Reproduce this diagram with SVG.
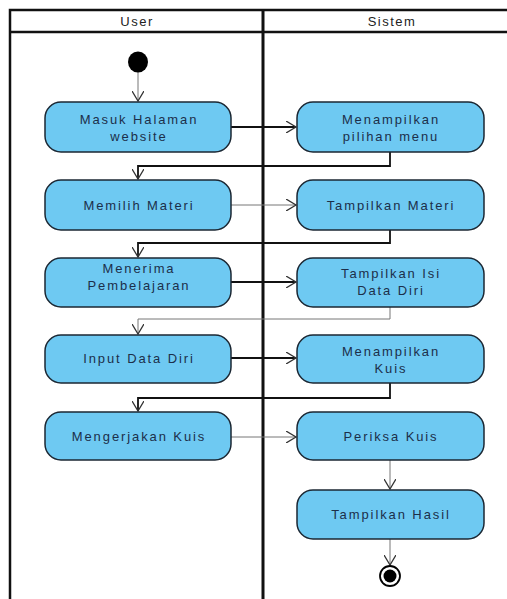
<svg xmlns="http://www.w3.org/2000/svg" width="507" height="599" viewBox="0 0 507 599">
<defs>
<style>
.lane{fill:none;stroke:#111;stroke-width:2.5}
.node rect{fill:#6ec9f2;stroke:#1b2733;stroke-width:1.5}
.node text{font-family:"Liberation Sans",Arial,sans-serif;font-size:13px;letter-spacing:1.9px;fill:#1c2f4a;text-anchor:middle}
.hdr{font-family:"Liberation Sans",Arial,sans-serif;font-size:13px;letter-spacing:1.5px;fill:#222;text-anchor:middle}
.c{fill:none;stroke:#111;stroke-width:1.8}
.t{fill:none;stroke:#777;stroke-width:1}
</style>
<marker id="a" markerWidth="12" markerHeight="12" refX="10" refY="6" orient="auto" markerUnits="userSpaceOnUse">
<path d="M0,0 L10,6 L0,12" fill="none" stroke="#333" stroke-width="1.3"/>
</marker>
</defs>
<rect width="507" height="599" fill="#fff"/>
<g id="swimlanes">
<path class="lane" d="M10,599 V10 H507"/>
<line class="lane" x1="10" y1="32" x2="507" y2="32"/>
<line x1="263" y1="10" x2="263" y2="599" stroke="#111" stroke-width="3"/>
<text class="hdr" x="137" y="26">User</text>
<text class="hdr" x="392" y="26">Sistem</text>
</g>
<g id="connectors">
<line class="t" x1="138" y1="72" x2="138" y2="101" marker-end="url(#a)"/>
<line class="c" x1="231" y1="127" x2="296" y2="127" marker-end="url(#a)"/>
<polyline class="c" points="390,152 390,166 138,166 138,179" marker-end="url(#a)"/>
<line class="t" x1="231" y1="205" x2="296" y2="205" marker-end="url(#a)"/>
<polyline class="c" points="390,230 390,243 138,243 138,257" marker-end="url(#a)"/>
<line class="c" x1="231" y1="282" x2="296" y2="282" marker-end="url(#a)"/>
<polyline class="t" points="390,307 390,319 138,319 138,334" marker-end="url(#a)"/>
<line class="c" x1="231" y1="358" x2="296" y2="358" marker-end="url(#a)"/>
<polyline class="c" points="390,383 390,398 138,398 138,411" marker-end="url(#a)"/>
<line class="t" x1="231" y1="437" x2="296" y2="437" marker-end="url(#a)"/>
<line class="t" x1="390" y1="460" x2="390" y2="489" marker-end="url(#a)"/>
<line class="t" x1="390" y1="539" x2="390" y2="565" marker-end="url(#a)"/>
</g>
<g id="start"><ellipse cx="138" cy="62" rx="10" ry="10.5" fill="#000"/></g>
<g id="n1" class="node"><rect x="45" y="102" width="186" height="50" rx="16"/><text x="139" y="124">Masuk Halaman</text><text x="139" y="141">website</text></g>
<g id="s1" class="node"><rect x="297" y="102" width="187" height="50" rx="16"/><text x="391" y="124">Menampilkan</text><text x="391" y="141">pilihan menu</text></g>
<g id="n2" class="node"><rect x="45" y="180" width="186" height="50" rx="16"/><text x="139" y="210">Memilih Materi</text></g>
<g id="s2" class="node"><rect x="297" y="180" width="187" height="50" rx="16"/><text x="391" y="210">Tampilkan Materi</text></g>
<g id="n3" class="node"><rect x="45" y="258" width="186" height="49" rx="16"/><text x="139" y="273">Menerima</text><text x="139" y="290">Pembelajaran</text></g>
<g id="s3" class="node"><rect x="297" y="258" width="187" height="49" rx="16"/><text x="391" y="278">Tampilkan Isi</text><text x="391" y="295">Data Diri</text></g>
<g id="n4" class="node"><rect x="45" y="335" width="186" height="48" rx="16"/><text x="139" y="363">Input Data Diri</text></g>
<g id="s4" class="node"><rect x="297" y="335" width="187" height="48" rx="16"/><text x="391" y="356">Menampilkan</text><text x="391" y="373">Kuis</text></g>
<g id="n5" class="node"><rect x="45" y="412" width="186" height="48" rx="16"/><text x="139" y="441">Mengerjakan Kuis</text></g>
<g id="s5" class="node"><rect x="297" y="412" width="187" height="48" rx="16"/><text x="391" y="441">Periksa Kuis</text></g>
<g id="s6" class="node"><rect x="297" y="490" width="187" height="49" rx="16"/><text x="391" y="519">Tampilkan Hasil</text></g>
<g id="end"><circle cx="390" cy="576" r="10" fill="#fff" stroke="#000" stroke-width="1.8"/><circle cx="390" cy="576" r="6.5" fill="#000"/></g>
</svg>
